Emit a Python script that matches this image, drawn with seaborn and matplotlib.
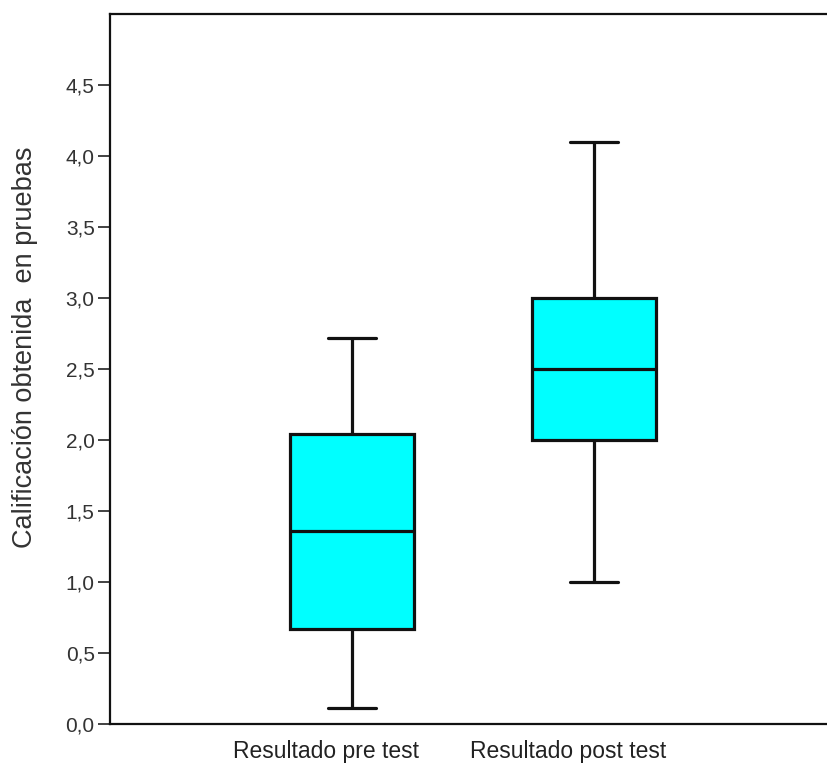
import matplotlib
matplotlib.use("Agg")
import matplotlib.pyplot as plt
import matplotlib.transforms as mtransforms
from matplotlib.ticker import FuncFormatter
import seaborn as sns
import pandas as pd

# Five-number summaries (min, Q1, median, Q3, max)
categories = ["Resultado pre test", "Resultado post test"]
pre_test = [0.11, 0.67, 1.36, 2.04, 2.72]
post_test = [1.00, 2.00, 2.50, 3.00, 4.10]
y_ticks = [0.0, 0.5, 1.0, 1.5, 2.0, 2.5, 3.0, 3.5, 4.0, 4.5]
y_label = "Calificación obtenida  en pruebas"

df = pd.DataFrame({
    "grupo": [categories[0]] * len(pre_test) + [categories[1]] * len(post_test),
    "valor": pre_test + post_test,
})

sns.set_style("white")
plt.rcParams["font.family"] = ["Liberation Sans", "DejaVu Sans"]

fig = plt.figure(figsize=(8.27, 7.68), dpi=100)
ax = fig.add_axes([110 / 827, 1 - 724 / 768, 726 / 827, 710 / 768])

lw = 2.3
sns.boxplot(
    data=df, x="grupo", y="valor", order=categories, ax=ax,
    color="#00FFFF", saturation=1, width=0.51, whis=1.5,
    linewidth=lw, linecolor="#111111", capwidths=0.2,
    boxprops=dict(facecolor="#00FFFF", edgecolor="#111111", linewidth=lw),
    medianprops=dict(color="#111111", linewidth=lw),
    whiskerprops=dict(color="#111111", linewidth=lw),
    capprops=dict(color="#111111", linewidth=lw),
)

ax.set_xlim(-1.0, 2.0)
ax.set_ylim(0, 5.0)
ax.set_yticks(y_ticks)
ax.yaxis.set_major_formatter(FuncFormatter(lambda v, p: f"{v:.1f}".replace(".", ",")))

for s in ax.spines.values():
    s.set_visible(True)
    s.set_color("#111111")
    s.set_linewidth(1.6)

ax.tick_params(axis="y", left=True, length=9, width=1.3, color="#333333",
               labelsize=15, labelcolor="#333333", pad=2)
ax.tick_params(axis="x", bottom=False, labelsize=16.5, labelcolor="#222222", pad=8)

offset = mtransforms.ScaledTranslation(-26 / 100, 0, fig.dpi_scale_trans)
for lab in ax.get_xticklabels():
    lab.set_transform(lab.get_transform() + offset)

ax.set_xlabel("")
ax.set_ylabel(y_label, fontsize=19.5, color="#333333")
ax.yaxis.set_label_coords(-0.099, 0.531)

fig.savefig("out.png", dpi=100)
